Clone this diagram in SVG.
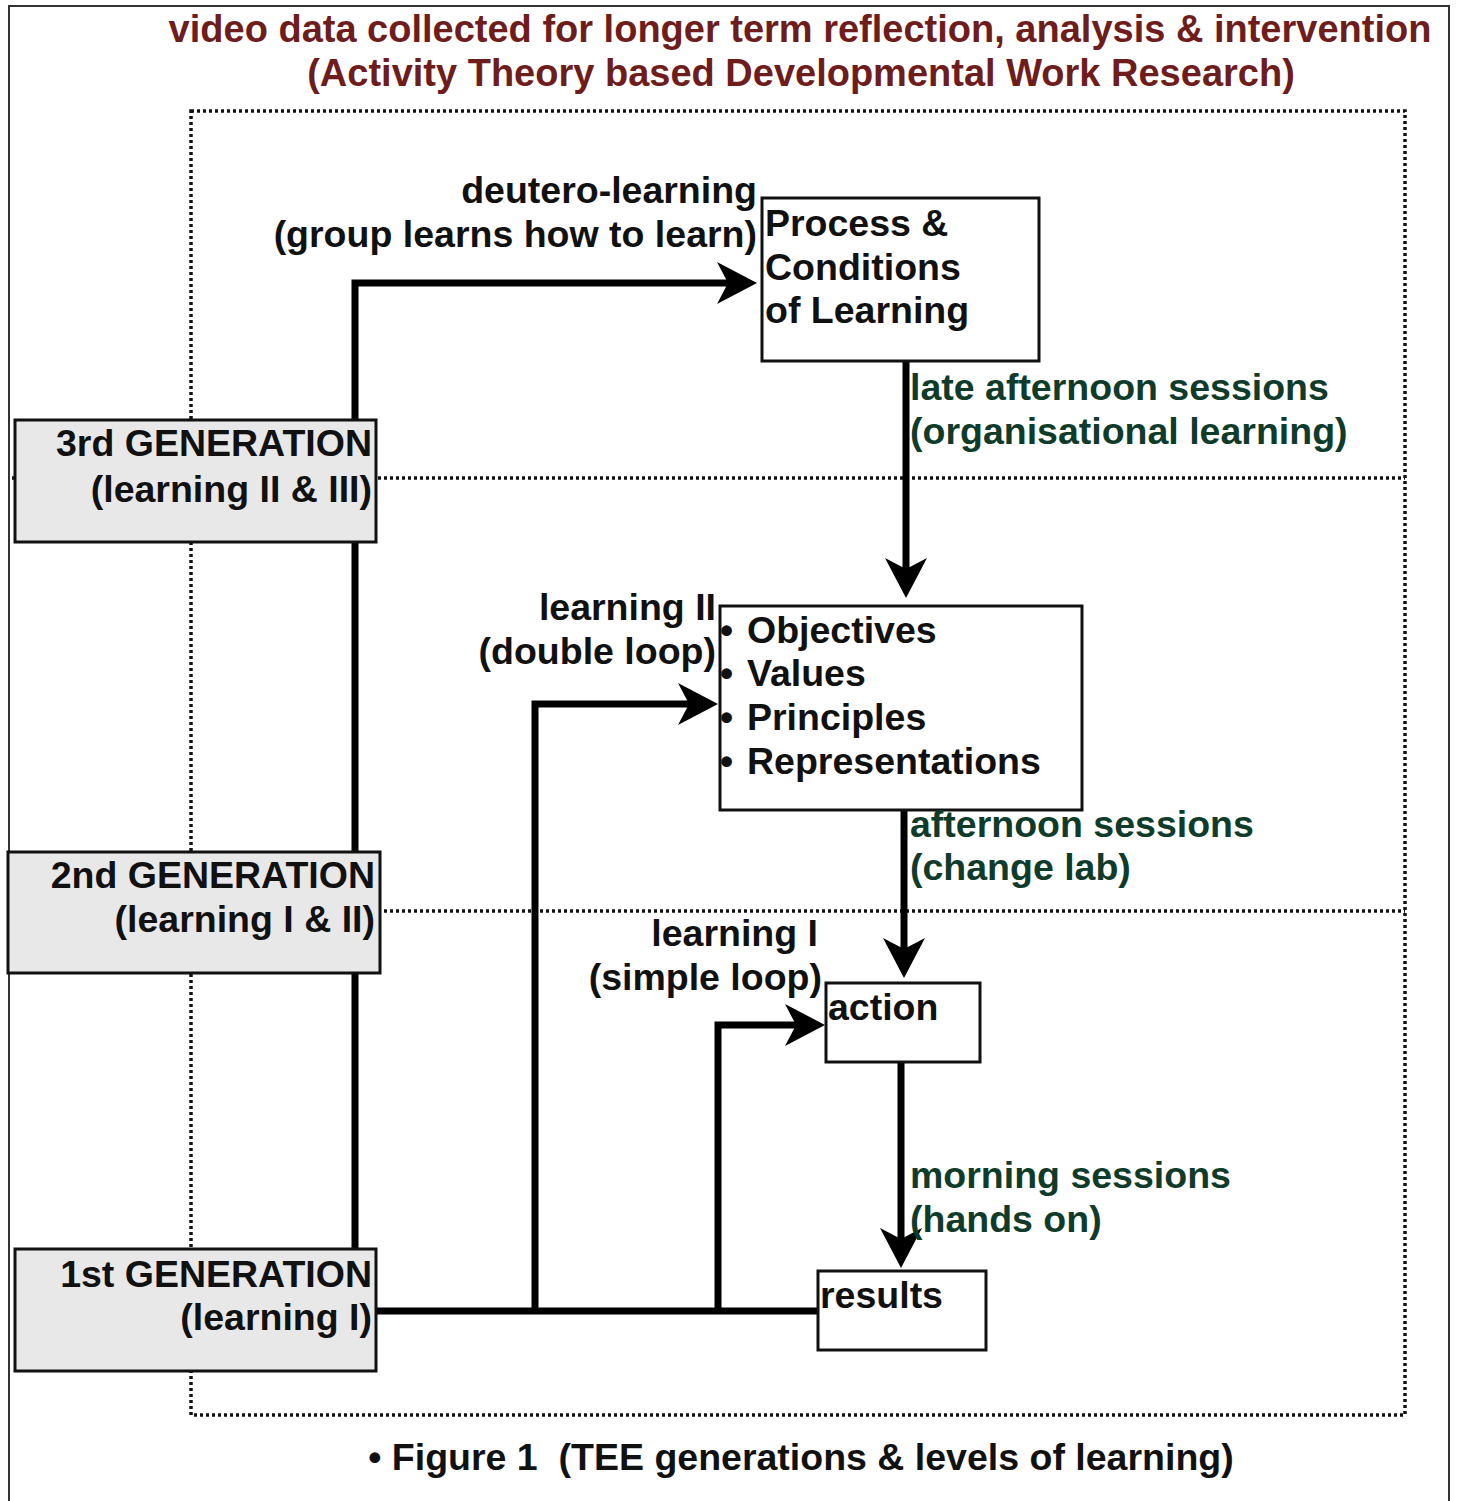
<svg xmlns="http://www.w3.org/2000/svg" width="1457" height="1501" viewBox="0 0 1457 1501">
<defs>
<style>
text{font-family:"Liberation Sans",Arial,sans-serif;font-weight:bold;font-size:37.5px;fill:#111}
.title{fill:#6e1c1c;font-size:38px}
.green{fill:#0f3b2a}
.gen{fill:#e8e8e8;stroke:#111;stroke-width:3}
.box{fill:#fff;stroke:#111;stroke-width:3}
.dot{fill:none;stroke:#111;stroke-width:3.5;stroke-dasharray:3 3}
.conn{fill:none;stroke:#000;stroke-width:7}
.frame{fill:none;stroke:#333;stroke-width:2}
</style>
<marker id="ah" viewBox="0 0 40 42" markerWidth="40" markerHeight="42" markerUnits="userSpaceOnUse" refX="24" refY="21" orient="auto">
<path d="M0,0 L40,21 L0,42 L11,21 Z" fill="#000"/>
</marker>
</defs>
<rect width="1457" height="1501" fill="#fff"/>
<g id="frame">
<path class="frame" d="M9,1501 V6 H1449 V1501"/>
</g>
<g id="title">
<text class="title" x="800" y="42" text-anchor="middle">video data collected for longer term reflection, analysis &amp; intervention</text>
<text class="title" x="801" y="86" text-anchor="middle">(Activity Theory based Developmental Work Research)</text>
</g>
<g id="zones">
<rect class="dot" x="191" y="111" width="1214" height="1304"/>
<line class="dot" x1="12" y1="478" x2="1405" y2="478"/>
<line class="dot" x1="12" y1="911" x2="1405" y2="911"/>
</g>
<g id="connectors">
<path class="conn" d="M355,1311 V283 H741" marker-end="url(#ah)"/>
<path class="conn" d="M376,1311 H818"/>
<path class="conn" d="M535,1311 V704 H702" marker-end="url(#ah)"/>
<path class="conn" d="M718,1311 V1025 H809" marker-end="url(#ah)"/>
<path class="conn" d="M906,361 V582" marker-end="url(#ah)"/>
<path class="conn" d="M904,810 V962" marker-end="url(#ah)"/>
<path class="conn" d="M901,1062 V1252" marker-end="url(#ah)"/>
</g>
<g id="gen3">
<rect class="gen" x="15" y="420" width="361" height="122"/>
<text x="372" y="456" text-anchor="end">3rd GENERATION</text>
<text x="372" y="502" text-anchor="end">(learning II &amp; III)</text>
</g>
<g id="gen2">
<rect class="gen" x="8" y="852" width="372" height="121"/>
<text x="375" y="888" text-anchor="end">2nd GENERATION</text>
<text x="375" y="932" text-anchor="end">(learning I &amp; II)</text>
</g>
<g id="gen1">
<rect class="gen" x="15" y="1249" width="361" height="122"/>
<text x="372" y="1287" text-anchor="end">1st GENERATION</text>
<text x="372" y="1330" text-anchor="end">(learning I)</text>
</g>
<g id="process">
<rect class="box" x="762" y="198" width="277" height="163"/>
<text x="765" y="236">Process &amp;</text>
<text x="765" y="280">Conditions</text>
<text x="765" y="323">of Learning</text>
</g>
<g id="objectives">
<rect class="box" x="720" y="606" width="362" height="204"/>
<text x="720" y="643">•</text><text x="747" y="643">Objectives</text>
<text x="720" y="686">•</text><text x="747" y="686">Values</text>
<text x="720" y="730">•</text><text x="747" y="730">Principles</text>
<text x="720" y="774">•</text><text x="747" y="774">Representations</text>
</g>
<g id="action">
<rect class="box" x="826" y="983" width="154" height="79"/>
<text x="828" y="1020">action</text>
</g>
<g id="results">
<rect class="box" x="818" y="1271" width="168" height="79"/>
<text x="820" y="1308">results</text>
</g>
<g id="labels">
<text x="757" y="203" text-anchor="end">deutero-learning</text>
<text x="757" y="247" text-anchor="end">(group learns how to learn)</text>
<text x="716" y="620" text-anchor="end">learning II</text>
<text x="716" y="664" text-anchor="end">(double loop)</text>
<text x="818" y="946" text-anchor="end">learning I</text>
<text x="822" y="990" text-anchor="end">(simple loop)</text>
<text class="green" x="910" y="400">late afternoon sessions</text>
<text class="green" x="910" y="444">(organisational learning)</text>
<text class="green" x="910" y="837">afternoon sessions</text>
<text class="green" x="910" y="880">(change lab)</text>
<text class="green" x="910" y="1188">morning sessions</text>
<text class="green" x="910" y="1232">(hands on)</text>
</g>
<g id="caption">
<text x="801" y="1470" text-anchor="middle" style="white-space:pre">• Figure 1  (TEE generations &amp; levels of learning)</text>
</g>
</svg>
